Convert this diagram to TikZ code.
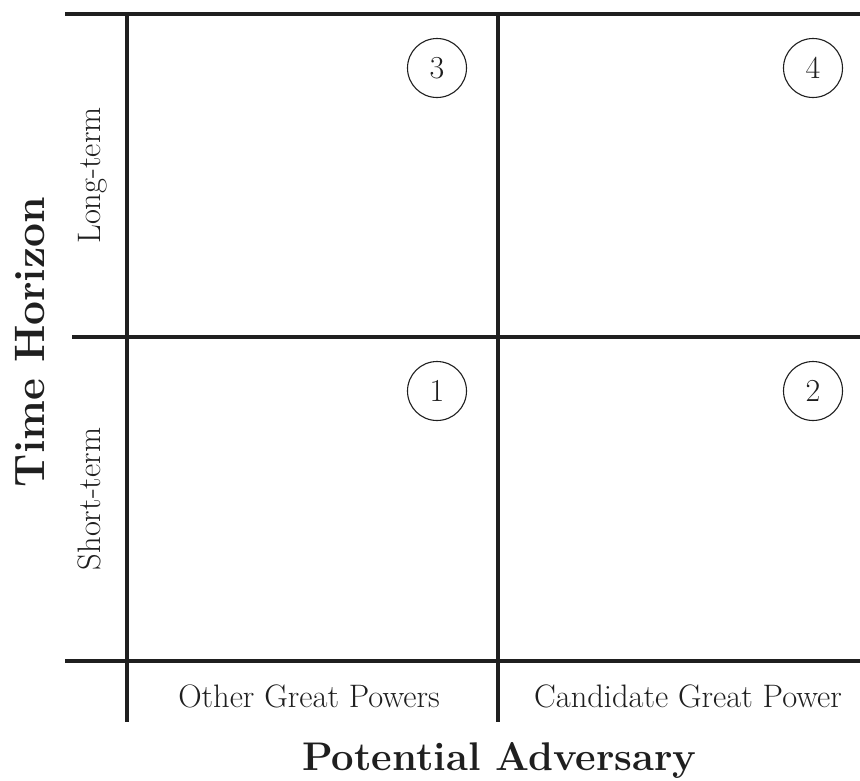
\documentclass[tikz,border=0pt]{standalone}
\tikzset{
  grid line/.style={line width=4pt, draw=black!88},
  num/.style={circle, draw=black!88, line width=1.1pt, minimum size=59pt, inner sep=0pt, font=\fontsize{32}{36}\selectfont, text=black!88},
  lab/.style={font=\fontsize{32.5}{38}\selectfont, inner sep=0pt, text=black!88},
  title/.style={font=\fontsize{40}{48}\selectfont\bfseries, inner sep=0pt, text=black!88}
}
\begin{document}
\begin{tikzpicture}[x=1pt,y=-1pt]
\useasboundingbox (0,0) rectangle (860,780);
% coordinates
\coordinate (tl) at (65,14);   \coordinate (tr) at (860,14);
\coordinate (ml) at (72,337);  \coordinate (mr) at (860,337);
\coordinate (bl) at (65,661);  \coordinate (br) at (860,661);
\coordinate (v1t) at (127,14); \coordinate (v1b) at (127,722);
\coordinate (v2t) at (498,14); \coordinate (v2b) at (498,722);
% grid
\draw[grid line] (tl) -- (tr);
\draw[grid line] (ml) -- (mr);
\draw[grid line] (bl) -- (br);
\draw[grid line] (v1t) -- (v1b);
\draw[grid line] (v2t) -- (v2b);
% numbers
\node[num] (n3) at (437,68) {3};
\node[num] (n4) at (813,68) {4};
\node[num] (n1) at (437,391) {1};
\node[num] (n2) at (813,391) {2};
% axis labels
\node[lab, rotate=90, anchor=base] (long) at (100,175.5) {Long-term};
\node[lab, rotate=90, anchor=base] (short) at (100,499) {Short-term};
\node[lab, anchor=base] (other) at (309,707) {Other Great Powers};
\node[lab, anchor=base] (cand) at (688,707) {Candidate Great Power};
\node[title, anchor=base] (pa) at (499.5,770) {Potential Adversary};
\node[title, font=\fontsize{42.5}{50}\selectfont\bfseries, rotate=90, anchor=base] (th) at (45,342) {Time Horizon};
\end{tikzpicture}
\end{document}
